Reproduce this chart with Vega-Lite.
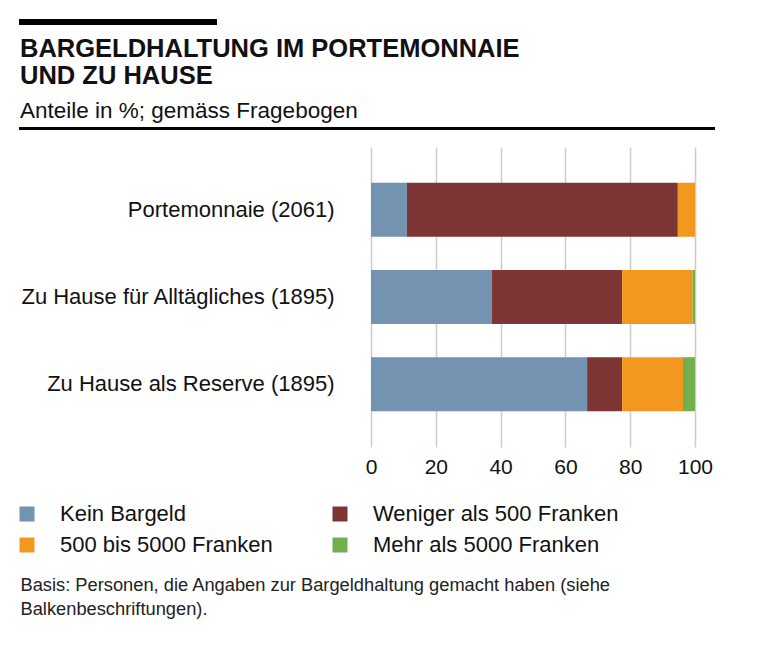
{
  "$schema": "https://vega.github.io/schema/vega-lite/v6.json",
  "width": 324,
  "height": 300,
  "autosize": {"type": "none"},
  "padding": {"left": 371, "top": 147, "right": 73, "bottom": 214},
  "background": "white",
  "config": {"view": {"stroke": null}, "font": "Liberation Sans"},
  "title": {
    "text": ["BARGELDHALTUNG IM PORTEMONNAIE", "UND ZU HAUSE"],
    "subtitle": "Anteile in %; gemäss Fragebogen",
    "anchor": "start",
    "frame": "group",
    "dx": -351,
    "offset": -103,
    "fontSize": 25.5,
    "fontWeight": "bold",
    "lineHeight": 27,
    "color": "#111111",
    "subtitleFontSize": 22.5,
    "subtitleColor": "#111111",
    "subtitlePadding": 10,
    "font": "Liberation Sans",
    "subtitleFont": "Liberation Sans"
  },
  "layer": [
    {
      "data": {
        "values": [
          {"Gruppe": "Portemonnaie (2061)", "Kategorie": "Kein Bargeld", "k": 1, "Anteil": 11.1},
          {"Gruppe": "Portemonnaie (2061)", "Kategorie": "Weniger als 500 Franken", "k": 2, "Anteil": 83.6},
          {"Gruppe": "Portemonnaie (2061)", "Kategorie": "500 bis 5000 Franken", "k": 3, "Anteil": 5.3},
          {"Gruppe": "Portemonnaie (2061)", "Kategorie": "Mehr als 5000 Franken", "k": 4, "Anteil": 0},
          {"Gruppe": "Zu Hause für Alltägliches (1895)", "Kategorie": "Kein Bargeld", "k": 1, "Anteil": 37.3},
          {"Gruppe": "Zu Hause für Alltägliches (1895)", "Kategorie": "Weniger als 500 Franken", "k": 2, "Anteil": 40.2},
          {"Gruppe": "Zu Hause für Alltägliches (1895)", "Kategorie": "500 bis 5000 Franken", "k": 3, "Anteil": 21.8},
          {"Gruppe": "Zu Hause für Alltägliches (1895)", "Kategorie": "Mehr als 5000 Franken", "k": 4, "Anteil": 0.7},
          {"Gruppe": "Zu Hause als Reserve (1895)", "Kategorie": "Kein Bargeld", "k": 1, "Anteil": 66.7},
          {"Gruppe": "Zu Hause als Reserve (1895)", "Kategorie": "Weniger als 500 Franken", "k": 2, "Anteil": 10.8},
          {"Gruppe": "Zu Hause als Reserve (1895)", "Kategorie": "500 bis 5000 Franken", "k": 3, "Anteil": 18.8},
          {"Gruppe": "Zu Hause als Reserve (1895)", "Kategorie": "Mehr als 5000 Franken", "k": 4, "Anteil": 3.7}
        ]
      },
      "mark": {"type": "bar"},
      "encoding": {
        "y": {
          "field": "Gruppe",
          "type": "nominal",
          "sort": ["Portemonnaie (2061)", "Zu Hause für Alltägliches (1895)", "Zu Hause als Reserve (1895)"],
          "title": null,
          "scale": {"paddingInner": 0.38, "paddingOuter": 0.41},
          "axis": {
            "domain": false,
            "ticks": false,
            "labelFontSize": 22,
            "labelPadding": 37,
            "labelColor": "#111111",
            "labelLimit": 400
          }
        },
        "x": {
          "field": "Anteil",
          "type": "quantitative",
          "stack": "zero",
          "scale": {"domain": [0, 100], "nice": false},
          "axis": {
            "values": [0, 20, 40, 60, 80, 100],
            "domain": false,
            "ticks": false,
            "grid": true,
            "gridColor": "#cccccc",
            "gridWidth": 1.5,
            "labelFontSize": 21,
            "labelPadding": 9,
            "labelFlush": false,
            "labelColor": "#111111",
            "title": ["Basis: Personen, die Angaben zur Bargeldhaltung gemacht haben (siehe", "Balkenbeschriftungen)."],
            "titleX": -351,
            "titleY": 129,
            "titleAlign": "left",
            "titleAnchor": "start",
            "titleBaseline": "top",
            "titleFontSize": 18.3,
            "titleFontWeight": "normal",
            "titleLineHeight": 24,
            "titleColor": "#222222"
          }
        },
        "color": {
          "field": "Kategorie",
          "type": "nominal",
          "scale": {
            "domain": ["Kein Bargeld", "Weniger als 500 Franken", "500 bis 5000 Franken", "Mehr als 5000 Franken"],
            "range": ["#7393B1", "#7E3535", "#F2981E", "#72B04F"]
          },
          "legend": {
            "orient": "none",
            "legendX": -355,
            "legendY": 356,
            "direction": "horizontal",
            "columns": 2,
            "title": null,
            "symbolType": "square",
            "symbolSize": 225,
            "symbolStrokeWidth": 0,
            "labelFontSize": 22,
            "labelOffset": 22,
            "rowPadding": 9,
            "columnPadding": 23,
            "gridAlign": "all",
            "labelLimit": 400,
            "labelColor": "#111111"
          }
        },
        "order": {"field": "k", "type": "quantitative"}
      }
    },
    {
      "data": {"values": [{}]},
      "mark": {"type": "rule", "color": "black", "strokeWidth": 6},
      "encoding": {"x": {"value": -352}, "x2": {"value": -154}, "y": {"value": -125}}
    },
    {
      "data": {"values": [{}]},
      "mark": {"type": "rule", "color": "black", "strokeWidth": 3},
      "encoding": {"x": {"value": -352}, "x2": {"value": 344}, "y": {"value": -18.5}}
    }
  ]
}
